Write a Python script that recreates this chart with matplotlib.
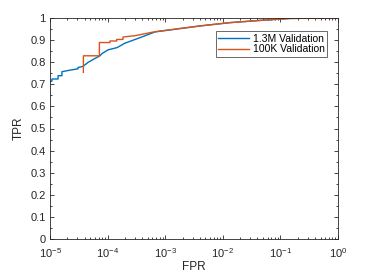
import matplotlib
matplotlib.use("Agg")
import matplotlib.pyplot as plt
from matplotlib.ticker import LogLocator, MultipleLocator, NullFormatter

plt.rcParams['font.family'] = ['Liberation Sans', 'DejaVu Sans']
plt.rcParams['mathtext.fontset'] = 'custom'
plt.rcParams['mathtext.rm'] = 'Liberation Sans'
plt.rcParams['mathtext.it'] = 'Liberation Sans'

# 1.3M Validation ROC
fpr_13m = [1.0e-5, 1.08e-5, 1.08e-5, 1.38e-5, 1.38e-5, 1.61e-5, 1.61e-5, 2.22e-5,
           3.06e-5, 3.06e-5, 3.74e-5, 4.57e-5, 6.04e-5, 7.38e-5, 8.0e-5, 1.02e-4,
           1.46e-4, 2.0e-4, 3.65e-4, 6.65e-4, 4.0e-3, 1.33e-2, 4.4e-2, 0.147, 1.0]
tpr_13m = [0.714, 0.714, 0.724, 0.724, 0.739, 0.739, 0.757, 0.764,
           0.770, 0.776, 0.781, 0.799, 0.817, 0.829, 0.839, 0.856,
           0.866, 0.886, 0.911, 0.937, 0.964, 0.979, 0.989, 0.998, 1.0]

# 100K Validation ROC
fpr_100k = [3.8e-5, 3.8e-5, 7.2e-5, 7.2e-5, 1.1e-4, 1.1e-4, 1.44e-4, 1.44e-4,
            1.85e-4, 1.85e-4, 3.0e-4, 6.65e-4, 4.0e-3, 1.33e-2, 4.4e-2, 0.147, 1.0]
tpr_100k = [0.754, 0.829, 0.829, 0.889, 0.889, 0.896, 0.896, 0.903,
            0.903, 0.914, 0.920, 0.938, 0.964, 0.979, 0.989, 0.998, 1.0]

labels = ['1.3M Validation', '100K Validation']
colors = ['#0072BD', '#D95319']
ytick_labels = ['0', '0.1', '0.2', '0.3', '0.4', '0.5', '0.6', '0.7', '0.8', '0.9', '1']

fig = plt.figure(figsize=(3.74, 2.72), dpi=100)
ax = fig.add_axes([50/374, 1 - 239/272, 288/374, 221/272])

ax.semilogx(fpr_13m, tpr_13m, color=colors[0], lw=1.0, label=labels[0])
ax.semilogx(fpr_100k, tpr_100k, color=colors[1], lw=1.0, label=labels[1])

ax.set_xlim(1e-5, 1)
ax.set_ylim(0, 1)
ax.xaxis.set_major_locator(LogLocator(base=10, numticks=10))
ax.xaxis.set_minor_locator(LogLocator(base=10, subs=range(2, 10), numticks=10))
ax.xaxis.set_minor_formatter(NullFormatter())
ax.set_yticks([i / 10 for i in range(11)])
ax.set_yticklabels(ytick_labels)
ax.yaxis.set_minor_locator(MultipleLocator(0.05))

ax.tick_params(which='both', direction='in', top=True, right=True, labelsize=8,
               colors='#262626', width=0.6)
ax.tick_params(which='major', length=3)
ax.tick_params(which='minor', length=1.5)
ax.tick_params(axis='x', which='major', pad=5)
ax.tick_params(axis='y', which='major', pad=3)
for s in ax.spines.values():
    s.set_color('#262626')
    s.set_linewidth(0.6)

ax.set_xlabel('FPR', fontsize=8.5, color='#262626', labelpad=1)
ax.set_ylabel('TPR', fontsize=8.5, color='#262626', labelpad=4)

leg = ax.legend(loc='upper right', bbox_to_anchor=(0.962, 0.94), fontsize=7.5,
                frameon=True, fancybox=False, borderpad=0.25, handlelength=3.0,
                handletextpad=0.3, labelspacing=0.05, borderaxespad=0)
leg.get_frame().set_edgecolor('#262626')
leg.get_frame().set_linewidth(0.6)

fig.savefig('out.png', dpi=100)
